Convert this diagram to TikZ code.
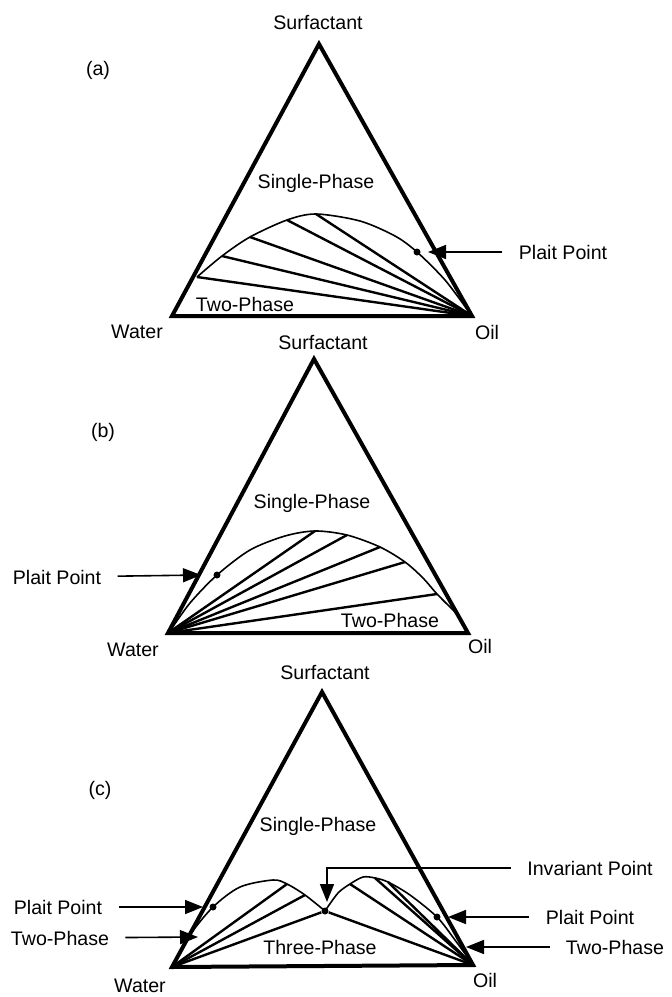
\documentclass[tikz,border=0pt]{standalone}
\usepackage{fontspec}
\setmainfont{Liberation Sans}
\usetikzlibrary{positioning,arrows.meta}
\tikzset{
	PhaseEdge/.style={line width=2pt},
	TieLine/.style={line width=1.2pt},
	Binodal/.style={line width=0.8pt},
	Pointer/.style={line width=0.8pt,-{Triangle[length=9pt,width=7pt]}},
	PointDot/.style={circle,fill,inner sep=0pt,minimum size=3.5pt},
	Label/.style={inner sep=0pt,font=\fontsize{9.8}{11}\selectfont},
}

\begin{document}
\begin{tikzpicture}[x=0.5pt,y=-0.5pt]
	\useasboundingbox (0,0) rectangle (671,997);
	% (a)
	\coordinate (aS) at (319,44);
	\coordinate (aW) at (172,316);
	\coordinate (aO) at (472,316);
	\coordinate (a1) at (197,277);
	\coordinate (a2) at (222,256);
	\coordinate (a3) at (250,237);
	\coordinate (a4) at (287,220);
	\coordinate (a5) at (316,214);
	\coordinate (aT) at (428,252);
	\node[PointDot] (aP) at (417,252) {};
	\draw[PhaseEdge] (aW) -- (aS) -- (aO) -- cycle;
	\draw[Binodal] plot[smooth] coordinates {(a1) (a2) (a3) (a4) (a5) (360,221) (395,236) (aP) (445,280) (469,312)};
	\foreach \n in {1,...,5}
		\draw[TieLine] (aO) -- (a\n);
	\node[Label] (aTag) at (98,70) {(a)};
	\node[Label] (aSurf) at (318,22) {Surfactant};
	\node[Label] (aWater) at (137,332) {Water};
	\node[Label] (aOil) at (487,332) {Oil};
	\node[Label] (aOne) at (316,183) {Single-Phase};
	\node[Label] (aTwo) at (245,304) {Two-Phase};
	\node[Label] (aPlait) at (563,252) {Plait Point};
	\draw[Pointer,shorten <=8pt] (aPlait) -- (aT);
	% (b)
	\coordinate (bS) at (314,359);
	\coordinate (bW) at (168,633);
	\coordinate (bO) at (468,633);
	\coordinate (b1) at (315,531);
	\coordinate (b2) at (347,535);
	\coordinate (b3) at (380,547);
	\coordinate (b4) at (405,562);
	\coordinate (b5) at (437,594);
	\coordinate (bT) at (201,575);
	\node[PointDot] (bP) at (217,575) {};
	\draw[PhaseEdge] (bW) -- (bS) -- (bO) -- cycle;
	\draw[Binodal] plot[smooth] coordinates {(170,631) (190,603) (bP) (250,550) (285,536) (b1) (b2) (b3) (b4) (423,578) (b5) (456,613)};
	\foreach \n in {1,...,5}
		\draw[TieLine] (bW) -- (b\n);
	\node[Label] (bTag) at (103,432) {(b)};
	\node[Label] (bSurf) at (323,342) {Surfactant};
	\node[Label] (bWater) at (133,650) {Water};
	\node[Label] (bOil) at (480,646) {Oil};
	\node[Label] (bOne) at (312,503) {Single-Phase};
	\node[Label] (bTwo) at (390,620) {Two-Phase};
	\node[Label] (bPlait) at (57,577) {Plait Point};
	\draw[Pointer,shorten <=8pt] (bPlait) -- (bT);
	% (c)
	\coordinate (cS) at (322,692);
	\coordinate (cW) at (172,967);
	\coordinate (cO) at (473,965);
	\coordinate (c1) at (287,884);
	\coordinate (c2) at (305,895);
	\coordinate (c3) at (350,884);
	\coordinate (c4) at (375,878);
	\coordinate (c5) at (388,882);
	\coordinate (cPT) at (203,907);
	\coordinate (cQT) at (448,917);
	\coordinate (cIT) at (327,902);
	\coordinate (cLT) at (198,937);
	\coordinate (cRT) at (466,947);
	\node[PointDot] (cP) at (213,907) {};
	\node[PointDot] (cQ) at (437,917) {};
	\node[PointDot] (cI) at (325,911) {};
	\draw[PhaseEdge] (cW) -- (cS) -- (cO) -- cycle;
	\draw[Binodal] plot[smooth] coordinates {(174,964) (190,935) (cP) (240,887) (273,880) (c1) (c2) (cI)};
	\draw[Binodal] plot[smooth] coordinates {(cI) (338,893) (c3) (363,877) (c4) (c5) (410,895) (cQ) (455,940) (471,962)};
	\foreach \n in {1,2}
		\draw[TieLine] (cW) -- (c\n);
	\foreach \n in {3,4,5}
		\draw[TieLine] (cO) -- (c\n);
	\draw[TieLine] (cW) -- (cI) -- (cO);
	\node[Label] (cTag) at (100,790) {(c)};
	\node[Label] (cSurf) at (325,672) {Surfactant};
	\node[Label] (cWater) at (140,986) {Water};
	\node[Label] (cOil) at (485,980) {Oil};
	\node[Label] (cOne) at (318,826) {Single-Phase};
	\node[Label] (cThree) at (320,947) {Three-Phase};
	\node[Label] (cPlaitL) at (58,907) {Plait Point};
	\node[Label] (cTwoL) at (60,938) {Two-Phase};
	\node[Label] (cInv) at (590,868) {Invariant Point};
	\node[Label] (cPlaitR) at (590,917) {Plait Point};
	\node[Label] (cTwoR) at (615,947) {Two-Phase};
	\draw[Pointer,shorten <=8pt] (cPlaitL) -- (cPT);
	\draw[Pointer,shorten <=8pt] (cTwoL) -- (cLT);
	\draw[Pointer,shorten <=8pt] (cInv) -| (cIT);
	\draw[Pointer,shorten <=8pt] (cPlaitR) -- (cQT);
	\draw[Pointer,shorten <=8pt] (cTwoR) -- (cRT);
\end{tikzpicture}
\end{document}
